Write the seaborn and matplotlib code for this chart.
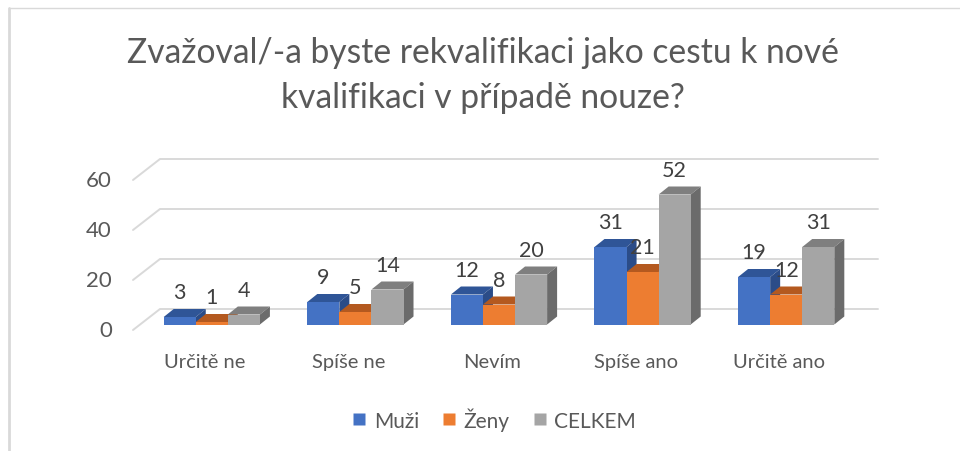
import matplotlib
matplotlib.use("Agg")
import numpy as np
import pandas as pd
import seaborn as sns
import matplotlib.pyplot as plt
from matplotlib.patches import Polygon
from matplotlib.lines import Line2D
from matplotlib.transforms import IdentityTransform
from matplotlib.colors import to_hex

# ---- data ----
categories = ["Určitě ne", "Spíše ne", "Nevím", "Spíše ano", "Určitě ano"]
series = ["Muži", "Ženy", "CELKEM"]
muzi = [3, 9, 12, 31, 19]
zeny = [1, 5, 8, 21, 12]
celkem = [4, 14, 20, 52, 31]
yticks = [0, 20, 40, 60]
title_lines = ["Zvažoval/-a byste rekvalifikaci jako cestu k nové",
               "kvalifikaci v případě nouze?"]

front_colors = {"Muži": "#4472C4", "Ženy": "#ED7D31", "CELKEM": "#A5A5A5"}
top_colors = {"Muži": "#2F5597", "Ženy": "#B4591F", "CELKEM": "#7F7F7F"}
side_colors = {"Muži": "#2B4C88", "Ženy": "#A04F1B", "CELKEM": "#6B6B6B"}

df = pd.DataFrame({
    "cat": categories * 3,
    "series": [s for s in series for _ in categories],
    "value": muzi + zeny + celkem,
})

sns.set_theme(style="white")
plt.rcParams["font.family"] = ["Lato", "DejaVu Sans"]
TXT = "#595959"

W, H = 960, 452
fig = plt.figure(figsize=(W / 100, H / 100), dpi=100)
fig.patch.set_facecolor("white")

# axes = front plane of bars (pixel geometry)
ax_left, ax_right = 140, 858
base_y, top_y = 325.5, 175.5
ax = fig.add_axes([ax_left / W, (H - base_y) / H, (ax_right - ax_left) / W, (base_y - top_y) / H])
sns.barplot(data=df, x="cat", y="value", hue="series", order=categories,
            hue_order=series, palette=front_colors, width=0.67, saturation=1,
            legend=False, ax=ax, linewidth=0)
ax.set_xlim(-0.5, len(categories) - 0.5)
ax.set_ylim(0, 60)
ax.set_autoscale_on(False)
ax.axis("off")

def D(x, y):
    return ax.transData.transform((x, y))

# 3D offsets (display pixels, y up)
bar_dx, bar_dy = 10, 8
back_dx, back_dy = 20, 15.5
floor_dx, floor_dy = -7, -5.5

# gridlines: floor-front diagonal + back wall
x0l, x1l = ax.get_xlim()
for yt in yticks:
    p = D(x0l, yt)
    q = D(x1l, yt)
    F = (p[0] + floor_dx, p[1] + floor_dy)
    B = (p[0] + back_dx, p[1] + back_dy)
    R = (q[0] + back_dx, q[1] + back_dy)
    ln = Line2D([F[0], B[0], R[0]], [F[1], B[1], R[1]], transform=IdentityTransform(),
                color="#D9D9D9", lw=1.4, zorder=0.5, clip_on=False)
    ax.add_artist(ln)
    ax.text(F[0] - 21, F[1], f"{yt}", transform=IdentityTransform(), ha="right",
            va="center", fontsize=16, color=TXT, clip_on=False)

# bars: add top and side faces
hex2series = {to_hex(c).lower(): s for s, c in front_colors.items()}
bars = sorted([p for p in ax.patches], key=lambda p: p.get_x())
for k, p in enumerate(bars):
    s = hex2series.get(to_hex(p.get_facecolor()).lower(), "CELKEM")
    x0, w, h = p.get_x(), p.get_width(), p.get_height()
    X0, Yh = D(x0, h)
    X1, Y0 = D(x0 + w, 0)
    z = 2 + 0.01 * k
    top = Polygon([(X0, Yh), (X1, Yh), (X1 + bar_dx, Yh + bar_dy), (X0 + bar_dx, Yh + bar_dy)],
                  closed=True, transform=IdentityTransform(), facecolor=top_colors[s],
                  edgecolor="none", zorder=z, clip_on=False)
    side = Polygon([(X1, Y0), (X1, Yh), (X1 + bar_dx, Yh + bar_dy), (X1 + bar_dx, Y0 + bar_dy)],
                   closed=True, transform=IdentityTransform(), facecolor=side_colors[s],
                   edgecolor="none", zorder=z, clip_on=False)
    ax.add_artist(top)
    ax.add_artist(side)
    p.set_zorder(z + 0.005)
    p.set_clip_on(False)
    # data label
    cx = (X0 + X1) / 2
    ax.text(cx, Yh + 18.5, f"{int(round(h))}", transform=IdentityTransform(),
            ha="center", va="baseline", fontsize=15.5, color="#404040", zorder=10, clip_on=False)

# category labels
for i, c in enumerate(categories):
    px, py = D(i, 0)
    ax.text(px + floor_dx, py - 42.5, c, transform=IdentityTransform(), ha="center",
            va="baseline", fontsize=14.5, color=TXT, clip_on=False)

# title
fig.text(483 / W, (H - 63) / H, title_lines[0], ha="center", va="baseline",
         fontsize=24.2, color=TXT)
fig.text(483 / W, (H - 108) / H, title_lines[1], ha="center", va="baseline",
         fontsize=24.2, color=TXT)

# legend
handles = [Line2D([], [], marker="s", linestyle="none", markersize=9,
                  markerfacecolor=front_colors[s], markeredgecolor="none") for s in series]
fig.legend(handles, series, loc="center", bbox_to_anchor=(494 / W, (H - 420) / H),
           ncol=3, frameon=False, fontsize=15, handlelength=0.7, handletextpad=0.35,
           columnspacing=1.1, labelcolor=TXT)

# chart border (left + top)
fig.add_artist(Line2D([9 / W, 9 / W], [0, (H - 9) / H], color="#D9D9D9", lw=2))
fig.add_artist(Line2D([9 / W, 1], [(H - 9) / H, (H - 9) / H], color="#D9D9D9", lw=1))

fig.savefig("out.png", dpi=100)
